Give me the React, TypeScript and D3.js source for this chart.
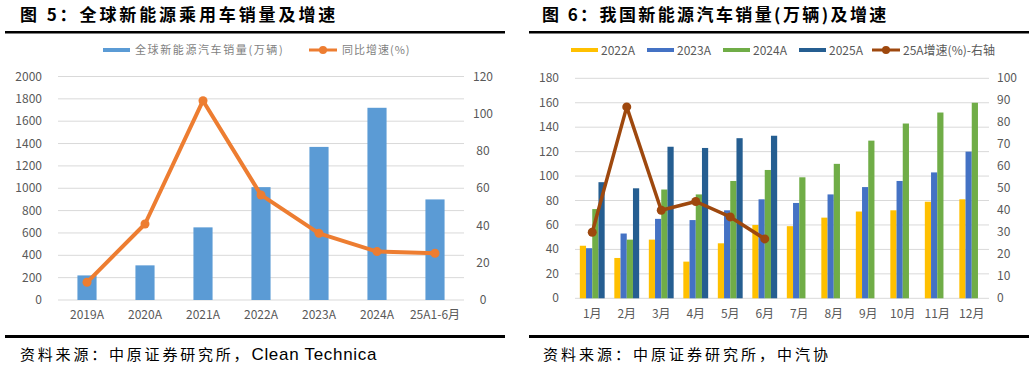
import React from "react";
import * as d3 from "d3";

const globalCats = ["2019A", "2020A", "2021A", "2022A", "2023A", "2024A", "25A1-6月"];
const globalSales = [220, 310, 650, 1010, 1370, 1720, 900];
const globalGrowth = [9.5, 40.8, 107, 56.4, 35.8, 26, 25.1];
const leftTicksL = d3.range(0, 2001, 200);
const leftTicksR = d3.range(0, 121, 20);

const months = ["1月", "2月", "3月", "4月", "5月", "6月", "7月", "8月", "9月", "10月", "11月", "12月"];
const s2022 = [43, 33, 48, 30, 45, 60, 59, 66, 71, 72, 79, 81];
const s2023 = [41, 53, 65, 64, 72, 81, 78, 85, 91, 96, 103, 120];
const s2024 = [73, 48, 89, 85, 96, 105, 99, 110, 129, 143, 152, 160];
const s2025 = [95, 90, 124, 123, 131, 133];
const g2025 = [30, 87, 40, 44, 37, 27];
const seriesKeys = ["2022A", "2023A", "2024A", "2025A"];
const rightTicksL = d3.range(0, 181, 20);
const rightTicksR = d3.range(0, 101, 10);

const FONT = "'Noto Sans CJK SC', 'Noto Sans', sans-serif";
const GRID = "#d9d9d9";
const TXT = "#595959";

function LeftChart() {
  const x = d3.scaleBand<string>().domain(globalCats).range([58, 464]).padding(0);
  const yL = d3.scaleLinear().domain([0, 2000]).range([300, 76.5]);
  const yR = d3.scaleLinear().domain([0, 120]).range([300, 76.5]);
  const bw = x.bandwidth() * 0.33;
  const cx = (c: string) => (x(c) as number) + x.bandwidth() / 2;
  const line = d3
    .line<number>()
    .x((_, i) => cx(globalCats[i]))
    .y((d) => yR(d));
  return (
    <g>
      <text x={20} y={21} fontFamily={FONT} fontWeight={700} fontSize={17} letterSpacing={2.9} fill="#000">
        图 5：全球新能源乘用车销量及增速
      </text>
      <rect x={5} y={31} width={500} height={2.5} fill="#000" />
      {/* legend */}
      <rect x={103} y={48} width={27} height={4} fill="#5B9BD5" />
      <text x={135} y={54} fontFamily={FONT} fontSize={11} letterSpacing={1.6} fill="#7f7f7f">
        全球新能源汽车销量(万辆)
      </text>
      <line x1={309} x2={337} y1={50} y2={50} stroke="#ED7D31" strokeWidth={3} />
      <circle cx={323} cy={50} r={4} fill="#ED7D31" />
      <text x={342} y={54} fontFamily={FONT} fontSize={11} letterSpacing={1} fill="#7f7f7f">
        同比增速(%)
      </text>
      {leftTicksL.map((t) => (
        <g key={t}>
          <line x1={58} x2={464} y1={yL(t)} y2={yL(t)} stroke={GRID} strokeWidth={1} />
          <text x={42} y={yL(t) + 4} textAnchor="end" fontFamily={FONT} fontSize={12} fill={TXT}>
            {t}
          </text>
        </g>
      ))}
      {leftTicksR.map((t) => (
        <text key={t} x={483} y={yR(t) + 4} textAnchor="middle" fontFamily={FONT} fontSize={12} fill={TXT}>
          {t}
        </text>
      ))}
      {globalSales.map((v, i) => (
        <rect key={i} x={cx(globalCats[i]) - bw / 2} y={yL(v)} width={bw} height={yL(0) - yL(v)} fill="#5B9BD5" />
      ))}
      <path d={line(globalGrowth) || ""} fill="none" stroke="#ED7D31" strokeWidth={4} strokeLinejoin="round" />
      {globalGrowth.map((v, i) => (
        <circle key={i} cx={cx(globalCats[i])} cy={yR(v)} r={4.5} fill="#ED7D31" />
      ))}
      {globalCats.map((c) => (
        <text key={c} x={cx(c)} y={319} textAnchor="middle" fontFamily={FONT} fontSize={12} fill={TXT}>
          {c}
        </text>
      ))}
      <rect x={5} y={335} width={500} height={3} fill="#000" />
      <text x={20} y={360} fontFamily={FONT} fontSize={15} letterSpacing={2.8} fill="#000">
        资料来源：中原证券研究所，
        <tspan letterSpacing={0.7} fontSize={17} fontFamily="'Liberation Sans', Arial, sans-serif">
          Clean Technica
        </tspan>
      </text>
    </g>
  );
}

function RightChart() {
  const x = d3.scaleBand<string>().domain(months).range([575, 989]).padding(0);
  const bw = x.bandwidth();
  const gw = bw * 0.72;
  const sub = d3.scaleBand<string>().domain(seriesKeys).range([(bw - gw) / 2, (bw + gw) / 2]).padding(0);
  const yL = d3.scaleLinear().domain([0, 180]).range([298.3, 78.3]);
  const yR = d3.scaleLinear().domain([0, 100]).range([298.3, 78.3]);
  const colors: Record<string, string> = {
    "2022A": "#FFC000",
    "2023A": "#4472C4",
    "2024A": "#70AD47",
    "2025A": "#255E91",
  };
  const data: Record<string, number[]> = { "2022A": s2022, "2023A": s2023, "2024A": s2024, "2025A": s2025 };
  const cx = (m: string) => (x(m) as number) + bw / 2;
  const line = d3
    .line<number>()
    .x((_, i) => cx(months[i]))
    .y((d) => yR(d));
  const legendX = [571, 647, 723, 799];
  return (
    <g>
      <text x={542} y={21} fontFamily={FONT} fontWeight={700} fontSize={17} letterSpacing={2.4} fill="#000">
        图 6：我国新能源汽车销量(万辆)及增速
      </text>
      <rect x={529} y={31} width={500} height={2.5} fill="#000" />
      {seriesKeys.map((k, i) => (
        <g key={k}>
          <rect x={legendX[i]} y={48} width={27} height={4} fill={colors[k]} />
          <text x={legendX[i] + 30} y={54.5} fontFamily={FONT} fontSize={12} fill={TXT}>
            {k}
          </text>
        </g>
      ))}
      <line x1={872} x2={900} y1={50} y2={50} stroke="#9E480E" strokeWidth={3} />
      <circle cx={886} cy={50} r={4} fill="#9E480E" />
      <text x={903} y={54.5} fontFamily={FONT} fontSize={12} fill={TXT}>
        25A增速(%)-右轴
      </text>
      {rightTicksL.map((t) => (
        <g key={t}>
          <line x1={575} x2={989} y1={yL(t)} y2={yL(t)} stroke={GRID} strokeWidth={1} />
          <text x={559} y={yL(t) + 4} textAnchor="end" fontFamily={FONT} fontSize={12} fill={TXT}>
            {t}
          </text>
        </g>
      ))}
      {rightTicksR.map((t) => (
        <text key={t} x={997} y={yR(t) + 4} textAnchor="start" fontFamily={FONT} fontSize={12} fill={TXT}>
          {t}
        </text>
      ))}
      {seriesKeys.map((k) =>
        data[k].map((v, i) => (
          <rect
            key={k + i}
            x={(x(months[i]) as number) + (sub(k) as number)}
            y={yL(v)}
            width={sub.bandwidth()}
            height={yL(0) - yL(v)}
            fill={colors[k]}
          />
        ))
      )}
      <path d={line(g2025) || ""} fill="none" stroke="#9E480E" strokeWidth={3.5} strokeLinejoin="round" />
      {g2025.map((v, i) => (
        <circle key={i} cx={cx(months[i])} cy={yR(v)} r={4.5} fill="#9E480E" />
      ))}
      {months.map((m) => (
        <text key={m} x={cx(m)} y={318} textAnchor="middle" fontFamily={FONT} fontSize={12} fill={TXT}>
          {m}
        </text>
      ))}
      <rect x={529} y={335} width={500} height={3} fill="#000" />
      <text x={543} y={360} fontFamily={FONT} fontSize={15} letterSpacing={3} fill="#000">
        资料来源：中原证券研究所，中汽协
      </text>
    </g>
  );
}

export default function App() {
  return (
    <svg
      width={1034}
      height={368}
      style={{ position: "absolute", left: 0, top: 0, background: "#fff", display: "block" }}
    >
      <rect width={1034} height={368} fill="#fff" />
      <LeftChart />
      <RightChart />
    </svg>
  );
}
